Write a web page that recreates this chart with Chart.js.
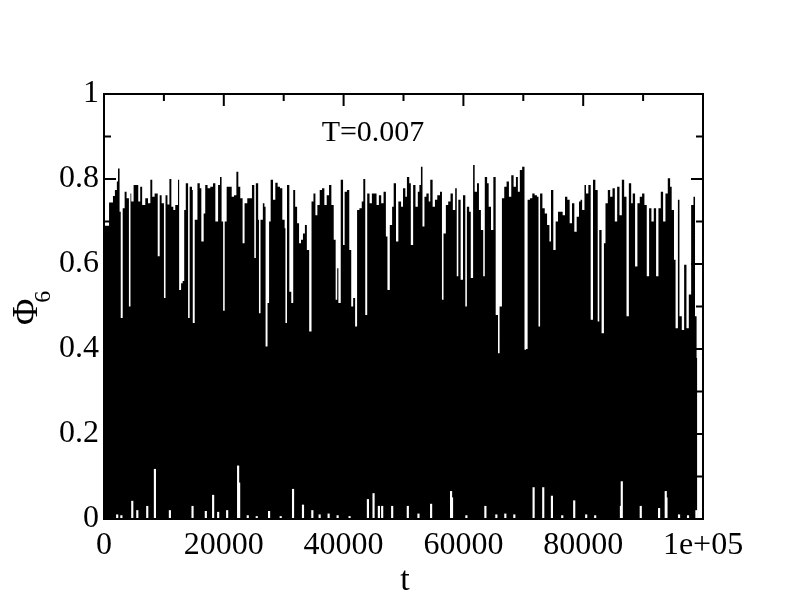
<!DOCTYPE html>
<html>
<head>
<meta charset="utf-8">
<title>Phi6 vs t</title>
<script src="https://cdn.jsdelivr.net/npm/chart.js@4.4.1/dist/chart.umd.min.js"></script>
<style>
  html, body { margin: 0; padding: 0; background: #fff; }
  canvas { display: block; }
</style>
</head>
<body>
<canvas id="chart" width="792" height="612"></canvas>
<script>
const phiT = [
    0, 520, 845, 1495, 1820, 2145, 2340, 2600, 2795, 3120,
    3445, 3770, 4160, 4420, 4550, 4940, 5395, 5720, 6045, 6370,
    6890, 7345, 7735, 8060, 8450, 8710, 8970, 9295, 9620, 10010,
    10270, 10595, 10920, 11245, 11570, 11895, 12350, 12545, 12870, 13130,
    13390, 13650, 14040, 14300, 14690, 14820, 15145, 15600, 15990, 16250,
    16640, 16900, 17290, 17745, 18200, 18590, 19045, 19370, 19630, 19890,
    20150, 20475, 20865, 21320, 21710, 22100, 22425, 22750, 23140, 23465,
    23920, 24310, 24700, 25090, 25350, 25740, 25870, 26130, 26520, 26780,
    26975, 27300, 27560, 27820, 28210, 28600, 28990, 29380, 29770, 30160,
    30290, 30550, 30940, 31265, 31590, 31915, 32240, 32565, 32890, 33215,
    33540, 33865, 34255, 34645, 34970, 35295, 35620, 36010, 36400, 36790,
    37180, 37570, 37960, 38350, 38675, 38935, 39130, 39520, 39910, 40170,
    40560, 40950, 41275, 41600, 41925, 42250, 42640, 43030, 43290, 43615,
    43940, 44330, 44720, 45110, 45500, 45890, 46280, 46670, 47060, 47320,
    47710, 48100, 48360, 48750, 49140, 49595, 49920, 50310, 50570, 50960,
    51220, 51610, 52000, 52390, 52650, 52910, 53170, 53495, 53820, 54210,
    54470, 54860, 55250, 55640, 56095, 56420, 56680, 57070, 57460, 57850,
    58240, 58630, 58890, 59150, 59540, 59930, 60320, 60580, 60970, 61230,
    61620, 61880, 62270, 62595, 62920, 63310, 63570, 63960, 64220, 64610,
    65000, 65390, 65780, 66040, 66430, 66820, 67210, 67600, 67990, 68380,
    68770, 69095, 69420, 69810, 70200, 70460, 70720, 71110, 71500, 71890,
    72280, 72540, 72800, 73190, 73580, 73970, 74360, 74620, 75010, 75400,
    75790, 76180, 76570, 76960, 77350, 77740, 78130, 78520, 78910, 79300,
    79560, 79820, 80210, 80470, 80860, 81250, 81640, 82030, 82420, 82680,
    83070, 83460, 83720, 84110, 84500, 84890, 85280, 85670, 86060, 86450,
    86840, 87230, 87620, 88010, 88270, 88660, 89050, 89440, 89830, 90220,
    90610, 91000, 91390, 91780, 92170, 92560, 92950, 93340, 93730, 94120,
    94510, 94770, 95160, 95420, 95810, 96070, 96460, 96850, 97240, 97630,
    98020, 98410, 98670, 98930, 99050
];

// Phi_6 upper values at those times
const phiV = [
    0.69, 0.69, 0.745, 0.76, 0.774, 0.794, 0.825, 0.723, 0.473, 0.731,
    0.77, 0.755, 0.50, 0.766, 0.747, 0.786, 0.786, 0.747, 0.782, 0.739,
    0.755, 0.743, 0.798, 0.758, 0.766, 0.766, 0.618, 0.762, 0.743, 0.52,
    0.762, 0.74, 0.80, 0.735, 0.727, 0.739, 0.798, 0.539, 0.555, 0.56,
    0.727, 0.79, 0.473, 0.782, 0.774, 0.461, 0.704, 0.79, 0.778, 0.653,
    0.719, 0.786, 0.778, 0.782, 0.79, 0.70, 0.786, 0.805, 0.70, 0.49,
    0.70, 0.782, 0.782, 0.758, 0.762, 0.817, 0.782, 0.755, 0.649, 0.743,
    0.755, 0.755, 0.786, 0.614, 0.79, 0.704, 0.484, 0.704, 0.743, 0.735,
    0.406, 0.508, 0.70, 0.798, 0.751, 0.791, 0.782, 0.778, 0.704, 0.684,
    0.461, 0.786, 0.535, 0.508, 0.774, 0.735, 0.696, 0.649, 0.657, 0.672,
    0.692, 0.633, 0.441, 0.747, 0.766, 0.715, 0.739, 0.774, 0.778, 0.739,
    0.762, 0.786, 0.739, 0.657, 0.516, 0.59, 0.508, 0.798, 0.645, 0.77,
    0.774, 0.633, 0.50, 0.52, 0.453, 0.727, 0.731, 0.747, 0.80, 0.48,
    0.766, 0.743, 0.766, 0.766, 0.739, 0.762, 0.743, 0.77, 0.665, 0.539,
    0.692, 0.735, 0.79, 0.653, 0.747, 0.735, 0.778, 0.758, 0.805, 0.79,
    0.645, 0.786, 0.735, 0.77, 0.786, 0.829, 0.688, 0.758, 0.766, 0.747,
    0.798, 0.735, 0.751, 0.762, 0.77, 0.516, 0.672, 0.739, 0.747, 0.766,
    0.727, 0.778, 0.571, 0.751, 0.563, 0.762, 0.50, 0.735, 0.723, 0.567,
    0.833, 0.77, 0.79, 0.727, 0.68, 0.571, 0.805, 0.79, 0.735, 0.68,
    0.805, 0.48, 0.39, 0.50, 0.755, 0.782, 0.794, 0.758, 0.809, 0.782,
    0.805, 0.77, 0.821, 0.829, 0.398, 0.40, 0.751, 0.755, 0.766, 0.762,
    0.758, 0.453, 0.766, 0.731, 0.719, 0.692, 0.653, 0.774, 0.633, 0.70,
    0.723, 0.723, 0.715, 0.758, 0.751, 0.696, 0.743, 0.676, 0.711, 0.747,
    0.751, 0.727, 0.786, 0.766, 0.786, 0.469, 0.798, 0.774, 0.465, 0.68,
    0.437, 0.649, 0.743, 0.774, 0.758, 0.778, 0.70, 0.782, 0.715, 0.798,
    0.758, 0.477, 0.79, 0.743, 0.766, 0.594, 0.743, 0.758, 0.766, 0.739,
    0.571, 0.731, 0.70, 0.731, 0.571, 0.731, 0.77, 0.70, 0.766, 0.802,
    0.782, 0.727, 0.61, 0.449, 0.751, 0.477, 0.445, 0.598, 0.449, 0.528,
    0.739, 0.758, 0.477, 0.379, 0.379
];

// places where the trace stays above zero for a while (white slivers at the bottom)
const gapT = [
    2200, 2900, 4720, 5560, 7220, 8500, 11000, 14780, 17000, 18220,
    19060, 20560, 22390, 22560, 24000, 25500, 27560, 29500, 31560, 33220,
    34780, 36000, 37500, 39000, 41000, 44060, 45000, 45890, 46440, 48110,
    50720, 52500, 54610, 57940, 58100, 60500, 63670, 65500, 67000, 68500,
    71720, 73330, 74780, 76500, 78500, 80500, 82000, 86300, 86440, 89610,
    92670, 93780, 93900, 96000, 97500, 98900
];
const gapV = [
    0.01, 0.008, 0.042, 0.02, 0.03, 0.117, 0.02, 0.03, 0.018, 0.056,
    0.016, 0.02, 0.125, 0.085, 0.008, 0.006, 0.018, 0.006, 0.07, 0.033,
    0.02, 0.01, 0.012, 0.008, 0.006, 0.046, 0.06, 0.03, 0.03, 0.03,
    0.03, 0.012, 0.035, 0.065, 0.05, 0.008, 0.03, 0.01, 0.012, 0.01,
    0.074, 0.074, 0.054, 0.008, 0.043, 0.01, 0.008, 0.03, 0.088, 0.03,
    0.025, 0.065, 0.05, 0.01, 0.008, 0.02
];

const xTicks = [0, 20000, 40000, 60000, 80000, 100000];
const xTickLabels = ['0', '20000', '40000', '60000', '80000', '1e+05'];
const xMinor = [10000, 30000, 50000, 70000, 90000];
const yTicks = [0, 0.2, 0.4, 0.6, 0.8, 1];
const yTickLabels = ['0', '0.2', '0.4', '0.6', '0.8', '1'];
const yMinor = [0.1, 0.3, 0.5, 0.7, 0.9];

const serif = '"Liberation Serif", "Times New Roman", serif';

// xmgrace style frame with inward ticks on all four sides
const framePlugin = {
    id: 'frame',
    afterDatasetsDraw(chart) {
        const { ctx, chartArea: a, scales: { x, y } } = chart;
        ctx.save();
        ctx.strokeStyle = '#000';
        ctx.lineWidth = 2;
        ctx.strokeRect(a.left, a.top, a.right - a.left, a.bottom - a.top);
        ctx.beginPath();
        const xt = (v, len) => {
            const px = x.getPixelForValue(v);
            ctx.moveTo(px, a.bottom); ctx.lineTo(px, a.bottom - len);
            ctx.moveTo(px, a.top); ctx.lineTo(px, a.top + len);
        };
        const yt = (v, len) => {
            const py = y.getPixelForValue(v);
            ctx.moveTo(a.left, py); ctx.lineTo(a.left + len, py);
            ctx.moveTo(a.right, py); ctx.lineTo(a.right - len, py);
        };
        xTicks.forEach(v => xt(v, 12));
        xMinor.forEach(v => xt(v, 7));
        yTicks.forEach(v => yt(v, 12));
        yMinor.forEach(v => yt(v, 7));
        ctx.stroke();
        ctx.restore();
    },
    afterDraw(chart) {
        const ctx = chart.ctx;
        ctx.save();
        ctx.fillStyle = '#000';
        // annotation
        ctx.font = '30px ' + serif;
        ctx.textAlign = 'center';
        ctx.textBaseline = 'alphabetic';
        ctx.fillText('T=0.007', 373, 141);
        // x title
        ctx.font = '34px ' + serif;
        ctx.fillText('t', 405, 590);
        // y title, rotated, with subscript
        ctx.translate(37, 325);
        ctx.rotate(-Math.PI / 2);
        ctx.textAlign = 'left';
        ctx.font = '36px ' + serif;
        ctx.fillText('Φ', 0, 0);
        const w = ctx.measureText('Φ').width;
        ctx.font = '24px ' + serif;
        ctx.fillText('6', w - 4, 13);
        ctx.restore();
    }
};

const ctx = document.getElementById('chart').getContext('2d');
const chart = new Chart(ctx, {
    type: 'line',
    data: {
        datasets: [{
            label: 'Phi6',
            data: phiT.map((t, i) => ({ x: t, y: phiV[i] })),
            stepped: true,
            fill: 'origin',
            backgroundColor: '#000',
            borderColor: 'rgba(0,0,0,0)',
            borderWidth: 0,
            pointRadius: 0,
            order: 2
        }, {
            type: 'bar',
            label: 'low gaps',
            data: gapT.map((t, i) => ({ x: t, y: gapV[i] })),
            backgroundColor: '#fff',
            borderWidth: 0,
            barThickness: 1.5,
            order: 1
        }]
    },
    options: {
        responsive: false,
        animation: false,
        devicePixelRatio: 1,
        events: [],
        layout: { padding: { top: 94, right: 89, left: 0, bottom: 0 } },
        plugins: {
            legend: { display: false },
            tooltip: { enabled: false }
        },
        scales: {
            x: {
                type: 'linear',
                min: 0,
                max: 100000,
                offset: false,
                grid: { display: false, drawTicks: false },
                border: { display: false },
                afterBuildTicks: s => { s.ticks = xTicks.map(v => ({ value: v })); },
                afterFit: s => { s.height = 93; },
                ticks: {
                    padding: 7,
                    maxRotation: 0,
                    color: '#000',
                    font: { family: serif, size: 32 },
                    callback: (v, i) => xTickLabels[i]
                }
            },
            y: {
                min: 0,
                max: 1,
                grid: { display: false, drawTicks: false },
                border: { display: false },
                afterBuildTicks: s => { s.ticks = yTicks.map(v => ({ value: v })); },
                afterFit: s => { s.width = 104; },
                ticks: {
                    padding: 5,
                    color: '#000',
                    font: { family: serif, size: 32 },
                    callback: (v, i) => yTickLabels[i]
                }
            }
        }
    },
    plugins: [framePlugin]
});
</script>
</body>
</html>
